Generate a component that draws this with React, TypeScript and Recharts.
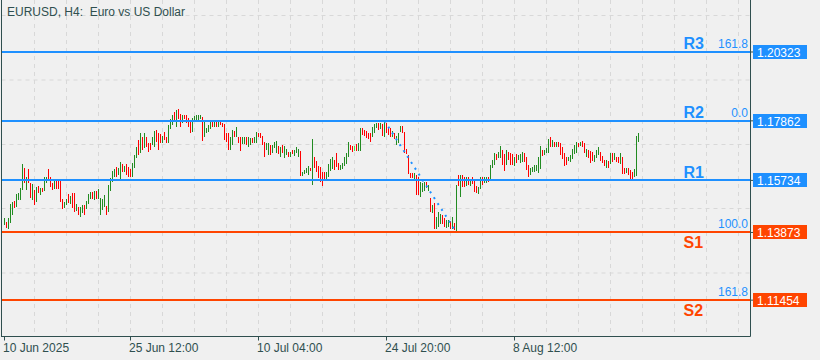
import React from 'react';
import { ComposedChart, Bar, Line, XAxis, YAxis, CartesianGrid, ReferenceLine } from 'recharts';

// H4 bars, oldest first (high / low)
const highs = [
  1.1438, 1.1424, 1.1438, 1.1488, 1.1496, 1.1499, 1.1524, 1.1528, 1.1546, 1.1631,
  1.1617, 1.1585, 1.1614, 1.1563, 1.1560, 1.1538, 1.1549, 1.1553, 1.1546, 1.1546,
  1.1585, 1.1585, 1.1614, 1.1585, 1.1563, 1.1571, 1.1571, 1.1571, 1.1571, 1.1506,
  1.1496, 1.1506, 1.1524, 1.1517, 1.1528, 1.1528, 1.1488, 1.1478, 1.1478, 1.1485,
  1.1485, 1.1499, 1.1524, 1.1531, 1.1531, 1.1535, 1.1535, 1.1542, 1.1510, 1.1506,
  1.1521, 1.1481, 1.1556, 1.1581, 1.1606, 1.1614, 1.1621, 1.1617, 1.1639, 1.1631,
  1.1624, 1.1631, 1.1621,
  1.1614, 1.1635, 1.1664, 1.1692, 1.1717, 1.1742, 1.1728, 1.1742, 1.1728, 1.1706,
  1.1706, 1.1728, 1.1749, 1.1753, 1.1742, 1.1739, 1.1731, 1.1746, 1.1728, 1.1771,
  1.1792, 1.1806, 1.1817, 1.1824, 1.1828, 1.1810, 1.1806, 1.1806, 1.1806, 1.1796,
  1.1785, 1.1796, 1.1803, 1.1806, 1.1806, 1.1806, 1.1799, 1.1781, 1.1760, 1.1771,
  1.1785, 1.1781, 1.1785, 1.1781, 1.1785, 1.1785, 1.1778, 1.1774, 1.1742, 1.1742,
  1.1728, 1.1753, 1.1749, 1.1764, 1.1728, 1.1728, 1.1728, 1.1728, 1.1728, 1.1728,
  1.1724, 1.1724, 1.1728,
  1.1746, 1.1742, 1.1742, 1.1731, 1.1710, 1.1706, 1.1706, 1.1699, 1.1699, 1.1710,
  1.1714, 1.1696, 1.1692, 1.1699, 1.1696, 1.1685, 1.1674, 1.1674, 1.1681, 1.1681,
  1.1692, 1.1685, 1.1678, 1.1603, 1.1610, 1.1617, 1.1624, 1.1617, 1.1721, 1.1656,
  1.1642, 1.1624, 1.1621, 1.1603, 1.1603, 1.1603, 1.1631, 1.1649, 1.1656, 1.1646,
  1.1671, 1.1635, 1.1628, 1.1635, 1.1656, 1.1671, 1.1710, 1.1699, 1.1696, 1.1696,
  1.1703, 1.1706, 1.1760, 1.1760, 1.1753, 1.1749, 1.1742, 1.1742, 1.1764, 1.1774,
  1.1778, 1.1778, 1.1778, 1.1774,
  1.17862, 1.1778, 1.1764, 1.1760, 1.1749, 1.1742, 1.1731, 1.1742, 1.1767, 1.1767,
  1.1746, 1.1685, 1.1664, 1.1599, 1.1599, 1.1599, 1.1592, 1.1585, 1.1567, 1.1563,
  1.1567, 1.1567, 1.1556, 1.1510, 1.1485, 1.1492, 1.1442, 1.1460, 1.1453, 1.1449,
  1.1438, 1.1431, 1.1431, 1.1428, 1.1442, 1.1421, 1.1556, 1.1592, 1.1592, 1.1592,
  1.1585, 1.1585, 1.1585, 1.1574, 1.1585, 1.1574, 1.1553, 1.1549, 1.1585, 1.1585,
  1.1585, 1.1585, 1.1585, 1.1628, 1.1646, 1.1671, 1.1667, 1.1674, 1.1696, 1.1681,
  1.1667, 1.1681, 1.1674, 1.1671,
  1.1667, 1.1656, 1.1667, 1.1664, 1.1667, 1.1674, 1.1671, 1.1656, 1.1628, 1.1617,
  1.1621, 1.1628, 1.1628, 1.1656, 1.1696, 1.1681, 1.1681, 1.1689, 1.1721, 1.1728,
  1.1717, 1.1710, 1.1710, 1.1710, 1.1706, 1.1692, 1.1671, 1.1656, 1.1656, 1.1664,
  1.1685, 1.1699, 1.1710, 1.1706, 1.1710, 1.1714, 1.1706, 1.1685, 1.1681, 1.1678,
  1.1674, 1.1664, 1.1681, 1.1692, 1.1674, 1.1660, 1.1646, 1.1646, 1.1642, 1.1671,
  1.1671, 1.1671, 1.1656, 1.1656, 1.1671, 1.1656, 1.1617, 1.1617, 1.1617, 1.1610,
  1.1603, 1.1614, 1.1731, 1.1742,
];

const lows = [
  1.1413, 1.1403, 1.1399, 1.1421, 1.1449, 1.1474, 1.1478, 1.1503, 1.1503, 1.1538,
  1.1563, 1.1538, 1.1563, 1.1510, 1.1503, 1.1485, 1.1496, 1.1528, 1.1521, 1.1531,
  1.1535, 1.1563, 1.1574, 1.1549, 1.1538, 1.1542, 1.1542, 1.1542, 1.1496, 1.1471,
  1.1474, 1.1485, 1.1492, 1.1488, 1.1474, 1.1460, 1.1463, 1.1449, 1.1442, 1.1456,
  1.1449, 1.1471, 1.1488, 1.1506, 1.1506, 1.1503, 1.1506, 1.1506, 1.1449, 1.1467,
  1.1478, 1.1449, 1.1460, 1.1535, 1.1567, 1.1585, 1.1585, 1.1592, 1.1578, 1.1603,
  1.1603, 1.1592, 1.1585,
  1.1585, 1.1585, 1.1617, 1.1653, 1.1664, 1.1671, 1.1681, 1.1689, 1.1692, 1.1674,
  1.1681, 1.1699, 1.1692, 1.1710, 1.1681, 1.1706, 1.1706, 1.1717, 1.1706, 1.1706,
  1.1756, 1.1771, 1.1781, 1.1764, 1.1792, 1.1764, 1.1778, 1.1792, 1.1778, 1.1764,
  1.1742, 1.1746, 1.1785, 1.1785, 1.1789, 1.1792, 1.1714, 1.1728, 1.1742, 1.1746,
  1.1756, 1.1764, 1.1764, 1.1764, 1.1764, 1.1771, 1.1764, 1.1717, 1.1710, 1.1681,
  1.1681, 1.1699, 1.1728, 1.1728, 1.1706, 1.1678, 1.1703, 1.1703, 1.1699, 1.1692,
  1.1699, 1.1706, 1.1706,
  1.1706, 1.1728, 1.1724, 1.1699, 1.1656, 1.1681, 1.1664, 1.1664, 1.1671, 1.1689,
  1.1671, 1.1667, 1.1656, 1.1671, 1.1653, 1.1664, 1.1656, 1.1656, 1.1667, 1.1660,
  1.1671, 1.1656, 1.1588, 1.1588, 1.1596, 1.1599, 1.1592, 1.1606, 1.1556, 1.1617,
  1.1603, 1.1581, 1.1567, 1.1553, 1.1578, 1.1578, 1.1585, 1.1606, 1.1614, 1.1610,
  1.1621, 1.1610, 1.1610, 1.1614, 1.1624, 1.1631, 1.1656, 1.1681, 1.1674, 1.1678,
  1.1678, 1.1678, 1.1678, 1.1735, 1.1731, 1.1724, 1.1721, 1.1710, 1.1728, 1.1742,
  1.1760, 1.1753, 1.1756, 1.1731,
  1.1728, 1.1742, 1.1735, 1.1728, 1.1728, 1.1721, 1.1699, 1.1706, 1.1746, 1.1742,
  1.1671, 1.1667, 1.1596, 1.1581, 1.1581, 1.1578, 1.1521, 1.1521, 1.1513, 1.1531,
  1.1535, 1.1546, 1.1535, 1.1460, 1.1456, 1.1399, 1.1399, 1.1406, 1.1417, 1.1417,
  1.1406, 1.1403, 1.1406, 1.1399, 1.1399, 1.1396, 1.13873, 1.1553, 1.1513, 1.1549,
  1.1549, 1.1553, 1.1556, 1.1553, 1.1560, 1.1531, 1.1528, 1.1524, 1.1542, 1.1556,
  1.1563, 1.1563, 1.1567, 1.1574, 1.1617, 1.1628, 1.1646, 1.1653, 1.1653, 1.1628,
  1.1606, 1.1628, 1.1646, 1.1628,
  1.1628, 1.1624, 1.1635, 1.1646, 1.1635, 1.1639, 1.1639, 1.1610, 1.1585, 1.1592,
  1.1603, 1.1603, 1.1606, 1.1599, 1.1614, 1.1660, 1.1664, 1.1671, 1.1671, 1.1692,
  1.1692, 1.1692, 1.1692, 1.1692, 1.1664, 1.1649, 1.1624, 1.1628, 1.1642, 1.1639,
  1.1649, 1.1667, 1.1671, 1.1692, 1.1696, 1.1692, 1.1671, 1.1656, 1.1653, 1.1635,
  1.1642, 1.1639, 1.1653, 1.1664, 1.1642, 1.1635, 1.1624, 1.1617, 1.1617, 1.1631,
  1.1639, 1.1646, 1.1639, 1.1635, 1.1631, 1.1596, 1.1596, 1.1599, 1.1592, 1.1578,
  1.1574, 1.1585, 1.1588, 1.1710,
];

// u = bull bar, d = bear bar, l = unchanged bar
const moves = [
  'uduuuduuuu', 'duddududud', 'uudddudddd', 'uududduduu', 'duuududuuu', 'uduuuuduud', 'udd',
  'duuudududd', 'duuddduddu', 'uududduddd', 'duuuuuduuu', 'udududdddd', 'uududduudu', 'udu',
  'udddduuduu', 'ududuududu', 'uuduuuudud', 'ddddduuuud', 'dduuuuuddl', 'duuddddduu', 'udud',
  'uddduduuud', 'dddddudduu', 'udududuuud', 'duudududud', 'dududdduud', 'uuduuuduud', 'dudd',
  'duduuudddu', 'uuuuuduuud', 'ududdddduu', 'uuududdudd', 'duuudddudu', 'dudduddudd', 'duuu',
].join('');

const tickBars = [0, 63, 127, 191, 255];
const tickLabels = ['10 Jun 2025', '25 Jun 12:00', '10 Jul 04:00', '24 Jul 20:00', '8 Aug 12:00'];

const levelNames = ['R3', 'R2', 'R1', 'S1', 'S2'];
const levelPrices = [1.20323, 1.17862, 1.15734, 1.13873, 1.11454];
const levelFibs = ['161.8', '0.0', '', '100.0', '161.8'];

// fibo anchors: swing high -> swing low
const fibBars = [190, 226];
const fibPrices = [1.17862, 1.13873];

const UP = '#228B22';
const DOWN = '#FF0000';
const FLAT = '#44EE44';
const RES = '#1E90FF';
const SUP = '#FF4500';
const INK = '#2F4F4F';
const FONT = '"Liberation Sans", Arial, sans-serif';

const data = highs.map((h, i) => {
  const f = fibBars.indexOf(i);
  return { i, range: [lows[i], h], dir: moves[i], fib: f >= 0 ? fibPrices[f] : null };
});

const levelColor = (idx: number) => (levelNames[idx].startsWith('S') ? SUP : RES);

function Stick(props: any) {
  const { x, y, width, height, payload } = props;
  if (x == null || y == null || !payload) return null;
  const left = Math.round(x + width / 2 - 0.5);
  const top = Math.round(Math.min(y, y + height));
  const bottom = Math.round(Math.max(y, y + height));
  const fill = payload.dir === 'u' ? UP : payload.dir === 'l' ? FLAT : DOWN;
  return <rect x={left} y={top} width={1} height={Math.max(1, bottom - top)} fill={fill} />;
}

function TimeTick({ x, y, payload }: any) {
  const k = tickBars.indexOf(payload.value);
  return (
    <text x={x - 1.5} y={y + 11.5} fill={INK} fontSize={12} fontFamily={FONT} textAnchor="start">
      {tickLabels[k]}
    </text>
  );
}

function PriceTick({ x, y, payload }: any) {
  const k = levelPrices.indexOf(payload.value);
  if (k < 0) return null;
  const bx = Math.floor(x);
  return (
    <g>
      <rect x={bx} y={Math.round(y) - 7} width={54} height={14} fill={levelColor(k)} />
      <text x={bx + 4} y={Math.round(y) + 4.5} fill="#fff" fontSize={12} fontFamily={FONT}>
        {payload.value.toFixed(5)}
      </text>
    </g>
  );
}

function LevelLabel({ viewBox, idx }: any) {
  if (!viewBox) return null;
  const { x, y, width } = viewBox;
  const right = x + width;
  const below = levelNames[idx].startsWith('S');
  return (
    <g>
      <text
        x={right - 67}
        y={below ? y + 15.5 : y - 2.5}
        fill={levelColor(idx)}
        fontSize={16}
        fontWeight="bold"
        fontFamily={FONT}
      >
        {levelNames[idx]}
      </text>
      {levelFibs[idx] && (
        <text x={right - 2.5} y={y - 4} fill={RES} fontSize={12} fontFamily={FONT} textAnchor="end">
          {levelFibs[idx]}
        </text>
      )}
    </g>
  );
}

export default function App() {
  return (
    <div style={{ position: 'absolute', left: 0, top: 0, width: 820, height: 360, background: '#F0F0F0' }}>
      <ComposedChart
        width={820}
        height={360}
        data={data}
        margin={{ top: 0, right: 0, bottom: 0, left: 1.5 }}
      >
        <CartesianGrid
          stroke="#D8D8D8"
          strokeDasharray="4 4"
          verticalCoordinatesGenerator={({ offset }: any) =>
            Array.from({ length: 23 }, (_, k) => offset.left + 33 + 32 * k)
          }
          horizontalCoordinatesGenerator={() => [15.5, 80, 144.5, 208.5, 273]}
        />
        <XAxis
          dataKey="i"
          type="number"
          domain={[-1.5, 373]}
          allowDataOverflow
          ticks={tickBars}
          interval={0}
          height={23.5}
          tickSize={4}
          tickMargin={0}
          tickLine={{ stroke: INK }}
          axisLine={{ stroke: INK }}
          tick={<TimeTick />}
        />
        <YAxis
          yAxisId="p"
          orientation="right"
          type="number"
          domain={[1.10155, 1.22181]}
          allowDataOverflow
          ticks={levelPrices}
          interval={0}
          width={69.5}
          tickSize={3}
          tickMargin={0}
          tickLine={{ stroke: INK }}
          axisLine={{ stroke: INK }}
          tick={<PriceTick />}
        />
        <Bar
          yAxisId="p"
          dataKey="range"
          barSize={1}
          isAnimationActive={false}
          shape={(p: any) => <Stick {...p} />}
        />
        {levelPrices.map((p, k) => (
          <ReferenceLine
            key={levelNames[k]}
            yAxisId="p"
            y={p}
            stroke={levelColor(k)}
            strokeWidth={2}
            shapeRendering="crispEdges"
            label={<LevelLabel idx={k} />}
          />
        ))}
        <Line
          yAxisId="p"
          dataKey="fib"
          connectNulls
          dot={false}
          activeDot={false}
          stroke={RES}
          strokeWidth={2}
          strokeDasharray="2 5"
          isAnimationActive={false}
        />
      </ComposedChart>
      <div style={{ position: 'absolute', left: 1, top: 0, width: 1, height: 337, background: INK }} />
      <svg width={820} height={20} style={{ position: 'absolute', left: 0, top: 0, pointerEvents: 'none' }}>
        <text x={7} y={15.5} fill={INK} fontSize={12} fontFamily={FONT} style={{ whiteSpace: 'pre' }}>
          {'EURUSD, H4:  Euro vs US Dollar'}
        </text>
      </svg>
    </div>
  );
}
